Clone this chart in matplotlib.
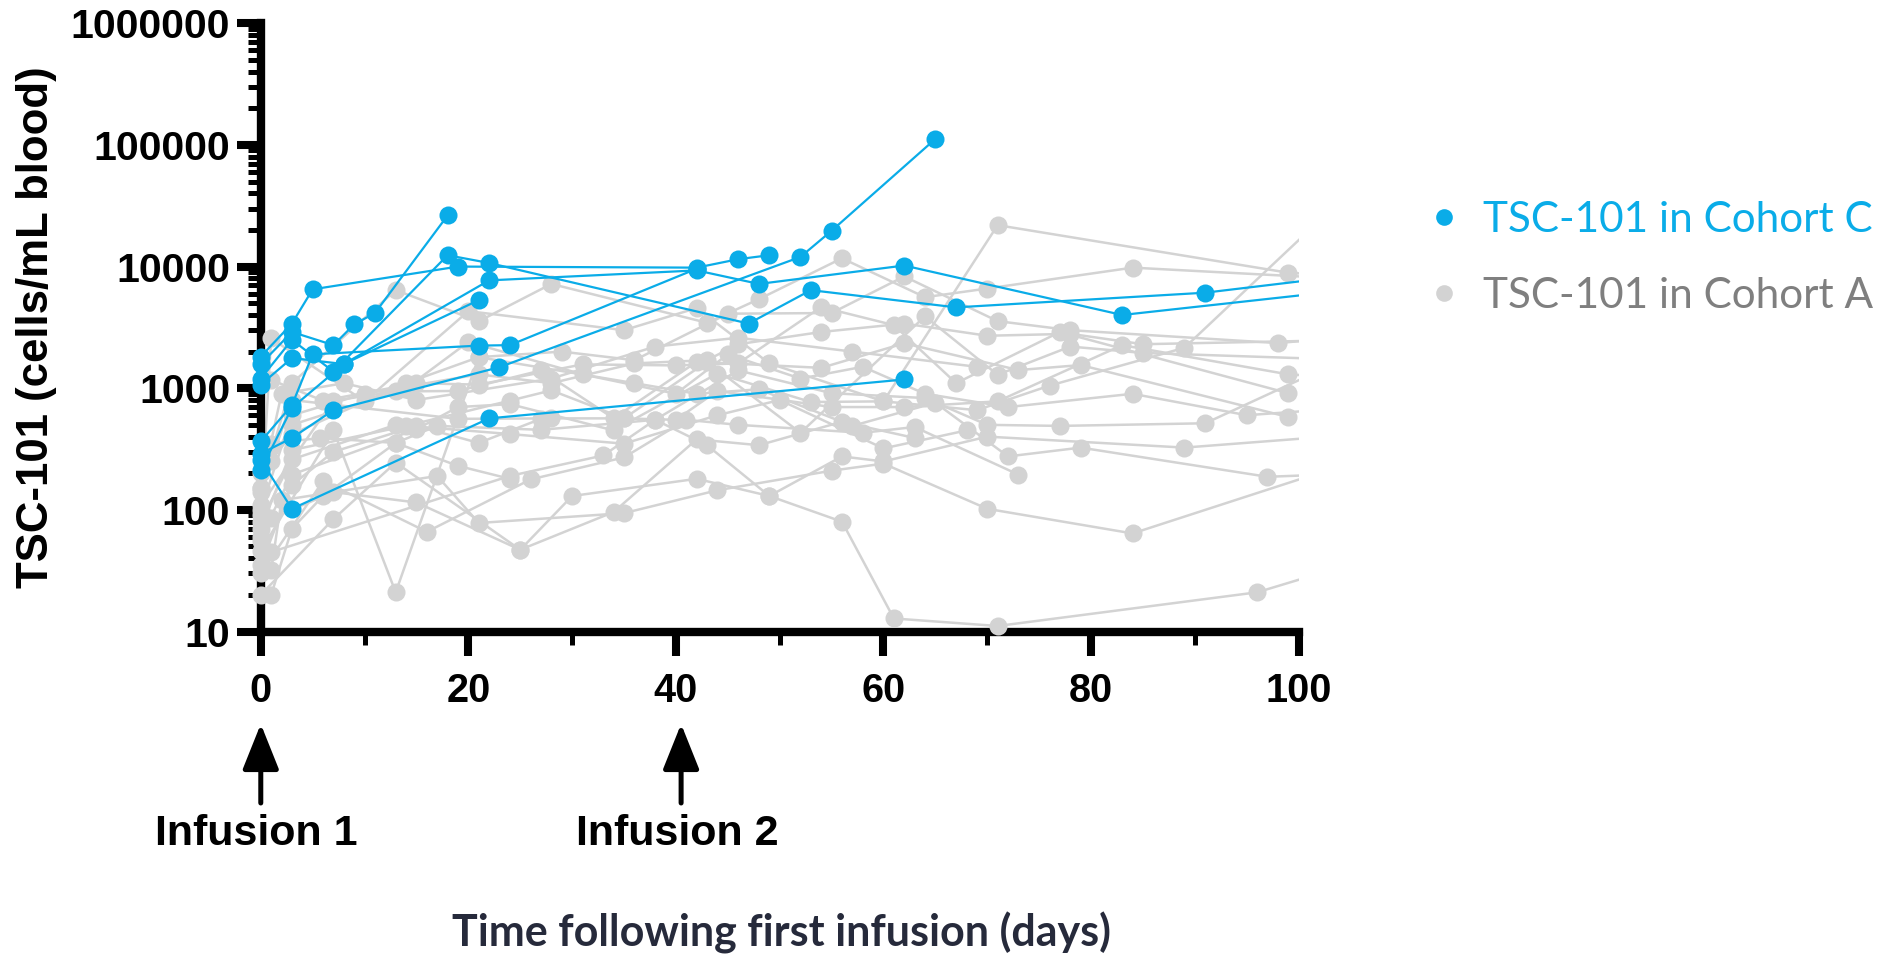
import matplotlib
matplotlib.use('Agg')
import matplotlib.pyplot as plt
import matplotlib.transforms as mtransforms
from matplotlib.ticker import LogLocator, FixedLocator, NullFormatter

blue = '#0AACE8'
gray = '#D3D3D3'

# TSC-101 in Cohort C: (days, cells/mL)
cohort_c = [
    ([0, 3, 7, 9, 11, 18], [1580, 2900, 2260, 3350, 4150, 26300]),
    ([0, 3, 5, 19, 42, 46, 49], [1820, 3400, 6500, 10000, 9800, 11500, 12400]),
    ([0, 3, 7, 18, 22, 47, 53, 67, 91, 112], [1200, 2500, 1370, 12400, 10700, 3400, 6400, 4620, 6100, 10000]),
    ([0, 3, 8, 22, 42, 48, 62, 83, 115], [1070, 1770, 1580, 7700, 9300, 7200, 10200, 4000, 8000]),
    ([0, 3, 5, 21, 24, 42], [365, 725, 1900, 2240, 2260, 9600]),
    ([0, 3, 7, 23, 52, 55, 65], [290, 390, 660, 1490, 12000, 19700, 112000]),
    ([0, 3, 22, 62], [257, 102, 565, 1180]),
    ([0, 3, 8, 21], [213, 690, 1580, 5300]),
]

# TSC-101 in Cohort A
cohort_a = [
    ([0, 3, 13, 21, 28, 43, 48, 56, 64, 70, 84, 106], [150, 1100, 6400, 3550, 7200, 3450, 5400, 11700, 5600, 6600, 9800, 7800]),
    ([0, 1, 10, 20, 35, 42, 49, 60, 71, 99, 106], [90, 2570, 780, 4300, 3000, 4560, 1600, 780, 21900, 8900, 8200]),
    ([0, 3, 14, 21, 29, 36, 45, 55, 62, 71, 78, 98, 106], [200, 420, 1100, 1800, 2000, 1700, 4100, 4150, 8300, 3560, 3000, 2350, 2700]),
    ([1, 6, 15, 21, 31, 40, 46, 54, 61, 67, 77, 99], [1170, 790, 1100, 1070, 1570, 1540, 1600, 4650, 3300, 1100, 2900, 910]),
    ([0, 7, 13, 19, 27, 34, 42, 54, 62, 73, 79, 99], [110, 790, 940, 950, 1400, 565, 1650, 1470, 2340, 1410, 1550, 580]),
    ([0, 3, 14, 24, 28, 35, 43, 52, 64, 71, 78, 85, 106], [70, 310, 490, 790, 960, 565, 1650, 430, 3900, 1290, 2200, 1950, 1700]),
    ([0, 3, 15, 19, 24, 34, 44, 53, 60, 69, 76, 89, 106], [60, 195, 460, 700, 740, 450, 1320, 770, 780, 660, 1050, 2150, 50000]),
    ([1, 5.7, 13, 17, 27, 38, 46, 55, 64, 70, 77, 91, 106], [350, 390, 355, 490, 455, 550, 1400, 910, 830, 500, 490, 515, 2000]),
    ([0, 7, 13, 21, 36, 42, 48, 57, 65, 72, 79, 97, 106], [46, 450, 21, 1800, 1100, 900, 980, 490, 760, 275, 325, 187, 200]),
    ([0, 6, 16, 26, 35, 41, 46, 58, 63, 73], [30, 173, 66, 178, 270, 550, 500, 430, 480, 195]),
    ([1, 7, 15, 25, 34, 42, 48, 56, 63], [85, 140, 115, 47, 96, 380, 340, 530, 390]),
    ([0, 7, 13, 25, 30, 42, 49, 56, 61, 71, 96, 106], [20, 84, 245, 47, 130, 180, 130, 80, 12.8, 11.1, 21, 38]),
    ([1, 2, 17, 21, 35, 44, 55, 60, 70, 84, 106], [32, 120, 190, 78, 94, 145, 210, 240, 102, 64, 260]),
    ([0, 3, 19, 28, 35, 40, 44, 55, 62, 71, 83, 99, 106], [140, 800, 560, 565, 565, 550, 950, 700, 700, 780, 2260, 1300, 1200]),
    ([0, 1, 24, 33, 38, 43, 49, 56, 60, 70, 89, 106], [55, 45, 190, 280, 550, 340, 130, 275, 250, 400, 325, 420]),
    ([0, 3, 7, 15, 21, 27], [35, 160, 300, 490, 355, 560]),
    ([1, 3, 6, 13, 19, 24], [20, 70, 130, 355, 230, 180]),
    ([0, 3, 10, 21, 28, 36, 43, 46, 54, 62, 70, 78, 85, 106], [100, 600, 900, 1300, 1100, 1600, 1700, 2300, 2900, 3400, 2700, 2800, 2300, 2500]),
    ([1, 3, 14, 20, 31, 40, 45, 52, 58, 64, 72, 84, 95, 106], [250, 500, 1000, 2400, 1300, 900, 1900, 1200, 1500, 900, 700, 900, 600, 700]),
    ([0, 3, 13, 24, 35, 44, 50, 60, 68], [80, 260, 500, 420, 350, 600, 800, 320, 450]),
    ([0, 2, 8, 15, 28, 38, 46, 57, 69], [150, 900, 1100, 800, 1200, 2200, 2600, 2000, 1500]),
]

y_ticks = [10, 100, 1000, 10000, 100000, 1000000]
y_ticklabels = ['10', '100', '1000', '10000', '100000', '1000000']
x_ticks = [0, 20, 40, 60, 80, 100]
x_minor = [10, 30, 50, 70, 90]
infusion_days = [0, 40.5]
infusion_labels = ['Infusion 1', 'Infusion 2']
legend_labels = ['TSC-101 in Cohort C', 'TSC-101 in Cohort A']

fig = plt.figure(figsize=(18.98, 9.58), dpi=100)
ax = fig.add_axes([0.1374, 0.3408, 0.5468, 0.6349])


def draw(series, color, lw, z):
    for xs, ys in series:
        ax.plot(xs, ys, color=color, lw=lw, zorder=z)
        keep = [(x, y) for x, y in zip(xs, ys) if x <= 100]
        ax.plot([p[0] for p in keep], [p[1] for p in keep], 'o', ms=13,
                color=color, mec='none', clip_on=False, zorder=z + 1)


draw(cohort_a, gray, 1.8, 2)
draw(cohort_c, blue, 1.6, 4)

ax.set_yscale('log')
ax.set_ylim(10, 1e6)
ax.set_xlim(0, 100)
ax.set_yticks(y_ticks)
ax.set_yticklabels(y_ticklabels)
ax.yaxis.set_minor_locator(LogLocator(base=10, subs=range(2, 10)))
ax.yaxis.set_minor_formatter(NullFormatter())
ax.set_xticks(x_ticks)
ax.set_xticklabels([str(t) for t in x_ticks])
ax.xaxis.set_minor_locator(FixedLocator(x_minor))

for s in ['top', 'right']:
    ax.spines[s].set_visible(False)
for s in ['left', 'bottom']:
    ax.spines[s].set_linewidth(6)

ax.tick_params(which='major', direction='out', length=17, width=5.8)
ax.tick_params(which='minor', direction='out', length=9.5, width=3.6)
ax.tick_params(axis='y', which='major', pad=5, labelsize=29.5)
ax.tick_params(axis='x', which='major', pad=12, labelsize=28.5)
for lab in ax.get_xticklabels() + ax.get_yticklabels():
    lab.set_fontweight('bold')
    lab.set_family('Liberation Sans')

fig.text(0.019, 0.6587, 'TSC-101 (cells/mL blood)', rotation=90, ha='center', va='center',
         fontsize=31.5, fontweight='bold', family='Liberation Sans')

# infusion arrows
trans = mtransforms.blended_transform_factory(ax.transData, fig.transFigure)
for d, lab in zip(infusion_days, infusion_labels):
    ax.annotate('', xy=(d, 0.2443), xytext=(d, 0.1618), xycoords=trans, textcoords=trans,
                arrowprops=dict(arrowstyle='-|>,head_length=0.4,head_width=0.16',
                                mutation_scale=70, lw=3.6, color='black',
                                shrinkA=0, shrinkB=0), annotation_clip=False)
    ax.text(d - 0.4, 0.118, lab, transform=trans, ha='center', va='baseline',
            fontsize=31, fontweight='bold', family='Liberation Sans')

fig.text(0.4115, 0.0118, 'Time following first infusion (days)', ha='center', va='baseline',
         fontsize=31, fontweight='bold', family='Lato', color='#262A3B')

# legend
for lab, col, tcol, my, ty in zip(legend_labels, [blue, gray], [blue, '#7F7F7F'],
                                  [0.7738, 0.6938], [0.7581, 0.6782]):
    fig.add_artist(plt.Line2D([0.7608], [my], marker='o', ms=12, color=col, mec='none',
                              transform=fig.transFigure))
    fig.text(0.7814, ty, lab, ha='left', va='baseline', fontsize=30.4, family='Lato', color=tcol)

fig.savefig('out.png', dpi=100)
